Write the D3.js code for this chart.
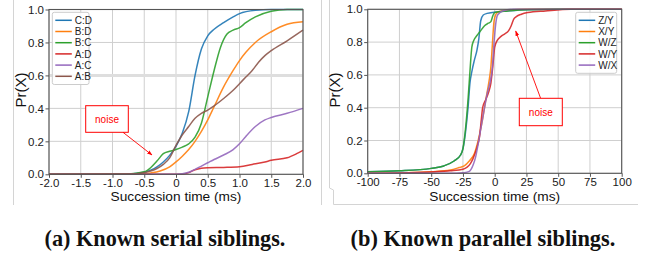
<!DOCTYPE html>
<html>
<head>
<meta charset="utf-8">
<script src="https://cdn.jsdelivr.net/npm/d3@7"></script>
<style>
  body { margin: 0; background: #fff; }
  svg { display: block; }
</style>
</head>
<body>
<svg id="fig" width="649" height="254"></svg>
<script>
// (a) known serial siblings, succession time in ms
const serialNames = ['C:D', 'B:D', 'B:C', 'A:D', 'A:C', 'A:B'];
const serialCD = [[-2,0],[-1,0],[-0.75,0.002],[-0.5,0.012],[-0.4,0.025],[-0.3,0.045],[-0.2,0.075],[-0.1,0.115],[0,0.17],[0.1,0.25],[0.2,0.38],[0.3,0.6],[0.4,0.76],[0.5,0.84],[0.6,0.88],[0.75,0.92],[0.9,0.955],[1.0,0.975],[1.25,0.995],[1.5,1],[2,1]];
const serialBD = [[-2,0],[-0.5,0.003],[-0.4,0.008],[-0.25,0.02],[-0.1,0.045],[0,0.075],[0.1,0.11],[0.2,0.15],[0.3,0.2],[0.4,0.26],[0.5,0.33],[0.6,0.41],[0.75,0.53],[0.9,0.63],[1.0,0.69],[1.1,0.74],[1.25,0.8],[1.5,0.865],[1.75,0.91],[2,0.925]];
const serialBC = [[-2,0],[-0.75,0.002],[-0.5,0.015],[-0.4,0.04],[-0.3,0.08],[-0.2,0.125],[-0.1,0.14],[0,0.15],[0.1,0.165],[0.2,0.185],[0.3,0.225],[0.4,0.31],[0.5,0.47],[0.6,0.63],[0.7,0.77],[0.8,0.85],[0.9,0.875],[1.0,0.89],[1.1,0.92],[1.25,0.955],[1.5,0.99],[1.75,1],[2,1]];
const serialAD = [[-2,0],[0.1,0],[0.2,0.01],[0.3,0.028],[0.4,0.037],[0.5,0.04],[0.75,0.042],[1.0,0.046],[1.2,0.06],[1.4,0.075],[1.5,0.085],[1.75,0.1],[1.9,0.125],[2,0.145]];
const serialAC = [[-2,0],[0,0],[0.1,0.003],[0.2,0.012],[0.3,0.03],[0.4,0.05],[0.5,0.07],[0.6,0.09],[0.75,0.117],[0.9,0.15],[1.0,0.185],[1.1,0.23],[1.25,0.29],[1.4,0.33],[1.5,0.345],[1.75,0.37],[2,0.4]];
const serialAB = [[-2,0],[-0.75,0.002],[-0.5,0.01],[-0.4,0.02],[-0.3,0.035],[-0.2,0.06],[-0.1,0.1],[0,0.175],[0.1,0.24],[0.2,0.29],[0.3,0.34],[0.4,0.37],[0.5,0.39],[0.6,0.415],[0.75,0.46],[0.9,0.51],[1.0,0.55],[1.1,0.59],[1.2,0.63],[1.3,0.68],[1.4,0.72],[1.5,0.75],[1.75,0.81],[2,0.875]];
const serialTicks = [-2, -1.5, -1, -0.5, 0, 0.5, 1, 1.5, 2];

// (b) known parallel siblings
const parallelNames = ['Z/Y', 'X/Y', 'W/Z', 'W/Y', 'W/X'];
const parallelZY = [[-100,0.01],[-75,0.015],[-50,0.03],[-40,0.045],[-32,0.075],[-27,0.11],[-25,0.15],[-23,0.25],[-21,0.4],[-19.5,0.55],[-18,0.62],[-16,0.69],[-14,0.75],[-12.5,0.82],[-11,0.93],[-9,0.965],[-6,0.975],[0,0.982],[10,0.99],[25,0.998],[50,1],[100,1]];
const parallelXY = [[-100,0],[-75,0.003],[-50,0.01],[-35,0.02],[-28,0.035],[-24,0.045],[-20,0.075],[-16,0.12],[-13,0.2],[-10,0.31],[-7,0.45],[-4.5,0.56],[-3,0.65],[-1.8,0.79],[-0.5,0.93],[1,0.97],[3,0.985],[10,0.995],[25,1],[100,1]];
const parallelWZ = [[-100,0.01],[-75,0.015],[-50,0.03],[-40,0.045],[-32,0.075],[-27,0.11],[-25,0.15],[-23,0.27],[-21,0.45],[-19.5,0.62],[-18,0.77],[-16.5,0.81],[-14,0.84],[-11,0.87],[-8,0.9],[-5,0.915],[-3,0.925],[-1.5,0.96],[0,0.98],[10,0.99],[25,0.998],[50,1],[100,1]];
const parallelWY = [[-100,0],[-75,0.002],[-50,0.008],[-35,0.015],[-25,0.025],[-19,0.06],[-15.5,0.12],[-13.5,0.17],[-12,0.22],[-10.5,0.33],[-9.5,0.4],[-7,0.45],[-5,0.49],[-3,0.55],[-1.5,0.65],[0,0.77],[2,0.81],[5,0.835],[8,0.85],[11,0.87],[13,0.9],[15,0.94],[17,0.955],[21,0.97],[26,0.98],[40,0.99],[60,1],[100,1]];
const parallelWX = [[-100,0],[-30,0],[-25,0.003],[-20,0.012],[-17,0.05],[-15,0.1],[-13,0.18],[-11,0.27],[-8,0.4],[-5.8,0.49],[-3.5,0.56],[-1.8,0.65],[-0.5,0.8],[0.8,0.91],[2,0.96],[3.4,0.975],[6,0.99],[15,1],[100,1]];
const parallelTicks = [-100, -75, -50, -25, 0, 25, 50, 75, 100];

const yTicks = [0, 0.2, 0.4, 0.6, 0.8, 1.0];
const colors = ['#1f77b4', '#ff7f0e', '#2ca02c', '#d62728', '#9467bd', '#8c564b'];
const parallelColors = ['#1f77b4', '#ff7f0e', '#2ca02c', '#d62728', '#9467bd'];

const svg = d3.select('#fig');
const sans = 'Liberation Sans, Arial, sans-serif';
// plain hyphen instead of the unicode minus d3 puts in
const hyphen = f => (d => f(d).replace('\u2212', '-'));

// screenshot-like light frame lines
svg.append('path')
    .attr('d', 'M13.5,0V205 M321.5,0V205 M329.5,0V188 L333.5,190 V204.5 H638')
    .attr('fill', 'none').attr('stroke', '#d4d4d4').attr('stroke-width', 1);

svg.append('defs').append('marker')
    .attr('id', 'arrow').attr('viewBox', '0 0 10 10')
    .attr('refX', 9).attr('refY', 5)
    .attr('markerWidth', 6).attr('markerHeight', 6)
    .attr('orient', 'auto')
    .append('path').attr('d', 'M0,1.5L10,5L0,8.5Z').attr('fill', '#f00');

function drawPanel(opt) {
    let x = d3.scaleLinear().domain(opt.xDomain).range([opt.left, opt.right]);
    let y = d3.scaleLinear().domain([0, 1]).range([opt.bottom, opt.top]);
    let g = svg.append('g');

    // grid
    g.append('g').selectAll('line').data(opt.xTicks).enter().append('line')
        .attr('x1', d => x(d)).attr('x2', d => x(d))
        .attr('y1', opt.top).attr('y2', opt.bottom)
        .attr('stroke', '#cfcfcf').attr('stroke-width', 1);
    g.append('g').selectAll('line').data(yTicks).enter().append('line')
        .attr('x1', opt.left).attr('x2', opt.right)
        .attr('y1', d => y(d)).attr('y2', d => y(d))
        .attr('stroke', d => (opt.thickGrid && d == 0.6) ? '#dedede' : '#cfcfcf')
        .attr('stroke-width', d => (opt.thickGrid && d == 0.6) ? 3 : 1);

    // curves
    let line = d3.line().x(d => x(d[0])).y(d => y(d[1])).curve(d3.curveMonotoneX);
    g.append('g').selectAll('path').data(opt.series).enter().append('path')
        .attr('d', d => line(d))
        .attr('fill', 'none')
        .attr('stroke', (d, i) => opt.colors[i])
        .attr('stroke-width', 1.5)
        .attr('stroke-opacity', 0.9);

    // axes
    let xAxis = d3.axisBottom(x).tickValues(opt.xTicks).tickSize(3.5).tickPadding(1.5)
        .tickFormat(opt.fmt);
    let yAxis = d3.axisLeft(y).tickValues(yTicks).tickSize(3.5).tickPadding(1.5)
        .tickFormat(d3.format('.1f'));
    let ax = g.append('g').attr('transform', `translate(0,${opt.bottom})`).call(xAxis);
    let ay = g.append('g').attr('transform', `translate(${opt.left},0)`).call(yAxis);
    [ax, ay].forEach(a => {
        a.select('.domain').remove();
        a.selectAll('line').attr('stroke', '#555');
        a.selectAll('text').attr('font-family', sans).attr('font-size', 11.5).attr('fill', '#1a1a1a');
    });

    // frame
    g.append('rect')
        .attr('x', opt.left).attr('y', opt.top)
        .attr('width', opt.right - opt.left).attr('height', opt.bottom - opt.top)
        .attr('fill', 'none').attr('stroke', '#555').attr('stroke-width', 1.1);

    // labels
    g.append('text')
        .attr('x', (opt.left + opt.right) / 2).attr('y', 201)
        .attr('text-anchor', 'middle')
        .attr('font-family', sans).attr('font-size', 13.7).attr('fill', '#111')
        .text('Succession time (ms)');
    g.append('text')
        .attr('transform', `translate(${opt.ylabX},90) rotate(-90)`)
        .attr('text-anchor', 'middle')
        .attr('font-family', sans).attr('font-size', 15).attr('fill', '#111')
        .text('Pr(X)');

    // legend
    let lg = g.append('g');
    lg.append('rect')
        .attr('x', opt.legend.x).attr('y', opt.legend.y)
        .attr('width', opt.legend.w).attr('height', opt.names.length * 11.2 + 5)
        .attr('rx', 2)
        .attr('fill', '#fff').attr('fill-opacity', 0.85)
        .attr('stroke', '#cccccc');
    opt.names.forEach((n, i) => {
        let yy = opt.legend.y + 8 + i * 11.2;
        lg.append('line')
            .attr('x1', opt.legend.x + 3).attr('x2', opt.legend.x + 19.5)
            .attr('y1', yy).attr('y2', yy)
            .attr('stroke', opt.colors[i]).attr('stroke-width', 1.5);
        lg.append('text')
            .attr('x', opt.legend.x + 22.5).attr('y', yy + 3.6)
            .attr('font-family', sans).attr('font-size', 10).attr('fill', '#222')
            .text(n);
    });

    // noise annotation
    let nb = opt.noise;
    g.append('rect')
        .attr('x', nb.x).attr('y', nb.y).attr('width', nb.w).attr('height', nb.h)
        .attr('fill', '#fff').attr('stroke', '#f00').attr('stroke-width', 1);
    g.append('text')
        .attr('x', nb.x + nb.w / 2).attr('y', nb.y + nb.h / 2 + 3.5)
        .attr('text-anchor', 'middle')
        .attr('font-family', sans).attr('font-size', 10).attr('fill', '#f00')
        .text('noise');
    g.append('line')
        .attr('x1', nb.ax1).attr('y1', nb.ay1).attr('x2', nb.ax2).attr('y2', nb.ay2)
        .attr('stroke', '#f00').attr('stroke-width', 0.9)
        .attr('marker-end', 'url(#arrow)');
}

drawPanel({
    xDomain: [-2, 2], left: 49, right: 303, top: 9.5, bottom: 174.3,
    xTicks: serialTicks, fmt: hyphen(d => d == 0 ? '0' : d3.format('.1f')(d)),
    series: [serialCD, serialBD, serialBC, serialAD, serialAC, serialAB],
    names: serialNames, colors: colors, ylabX: 26, thickGrid: true,
    legend: { x: 52.3, y: 12.3, w: 36.7 },
    noise: { x: 85.7, y: 105.7, w: 42.6, h: 26.6, ax1: 123, ay1: 132.3, ax2: 152, ay2: 155 }
});

drawPanel({
    xDomain: [-100, 100], left: 367.7, right: 621.7, top: 9.3, bottom: 173.3,
    xTicks: parallelTicks, fmt: hyphen(d3.format('d')),
    series: [parallelZY, parallelXY, parallelWZ, parallelWY, parallelWX],
    names: parallelNames, colors: parallelColors, ylabX: 340,
    legend: { x: 575.7, y: 12.3, w: 41 },
    noise: { x: 519.3, y: 98.3, w: 43, h: 27.4, ax1: 540.5, ay1: 98, ax2: 515.7, ay2: 31 }
});

// captions, bold serif, fitted to the measured widths
let captions = [['(a) Known serial siblings.', 44.5, 241], ['(b) Known parallel siblings.', 350.5, 265]];
captions.forEach(c => {
    let t = svg.append('text')
        .attr('x', c[1]).attr('y', 246)
        .attr('font-family', 'Liberation Serif, Times New Roman, serif')
        .attr('font-weight', 'bold').attr('font-size', 20).attr('fill', '#111')
        .text(c[0]);
    let w = t.node().getComputedTextLength();
    t.attr('font-size', 20 * c[2] / w);
});
</script>
</body>
</html>
